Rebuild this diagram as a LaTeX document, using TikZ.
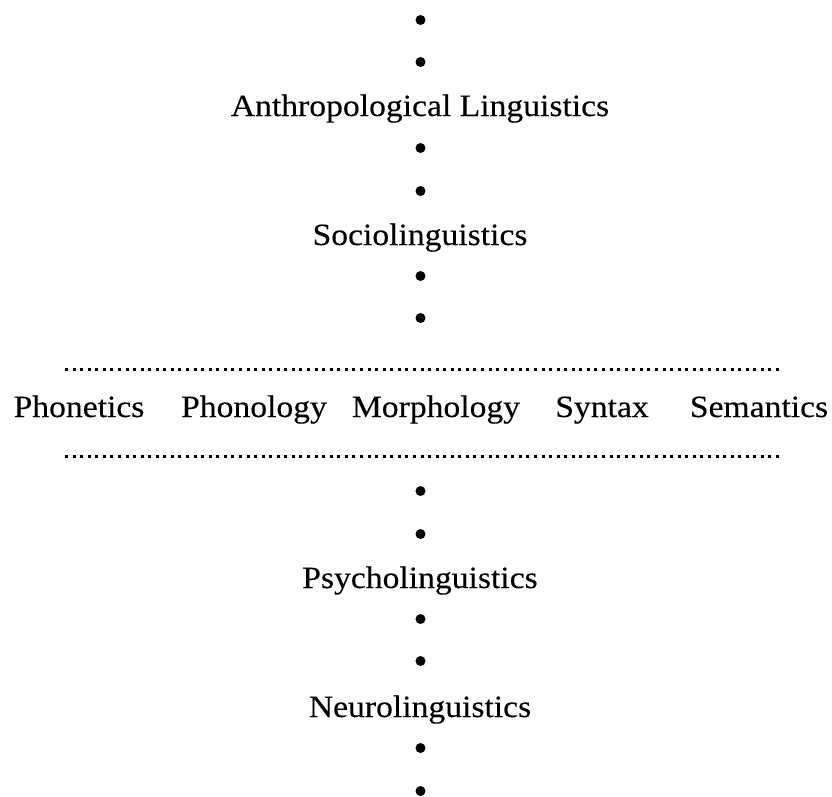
\documentclass[tikz,border=0pt]{standalone}
\usepackage{fontspec}
\setmainfont[FakeStretch=1.085,FakeBold=0.2]{Liberation Serif}
\begin{document}
\begin{tikzpicture}[x=1pt,y=-1pt,
  lbl/.style={anchor=base,inner sep=0pt,font=\fontsize{31}{37}\selectfont},
  dotnode/.style={circle,fill=black,inner sep=0pt,minimum size=10pt},
  dotline/.style={line width=3pt,dash pattern=on 3pt off 4.564pt}]
\useasboundingbox (0,0) rectangle (832,796);
% bullets
\foreach \n/\yy in {b1/20,b2/62,b3/148,b4/191,b5/276,b6/318,b7/491,b8/534,b9/619,b10/661,b11/748,b12/791}
  \node[dotnode] (\n) at (420.5,\yy) {};
% labels
\node[lbl] (anth) at (420,116) {Anthropological Linguistics};
\node[lbl] (soc) at (420,245) {Sociolinguistics};
\node[lbl] (phonet) at (79,417) {Phonetics};
\node[lbl] (phonol) at (254,417) {Phonology};
\node[lbl] (morph) at (436,417) {Morphology};
\node[lbl] (syn) at (602,417) {Syntax};
\node[lbl] (sem) at (759,417) {Semantics};
\node[lbl] (psy) at (420,588) {Psycholinguistics};
\node[lbl] (neu) at (420,717) {Neurolinguistics};
% dotted lines
\coordinate (tl) at (65,369);
\coordinate (tr) at (779,369);
\coordinate (bl) at (65,456);
\coordinate (br) at (779,456);
\draw[dotline] (tl) -- (tr);
\draw[dotline] (bl) -- (br);
\end{tikzpicture}
\end{document}
